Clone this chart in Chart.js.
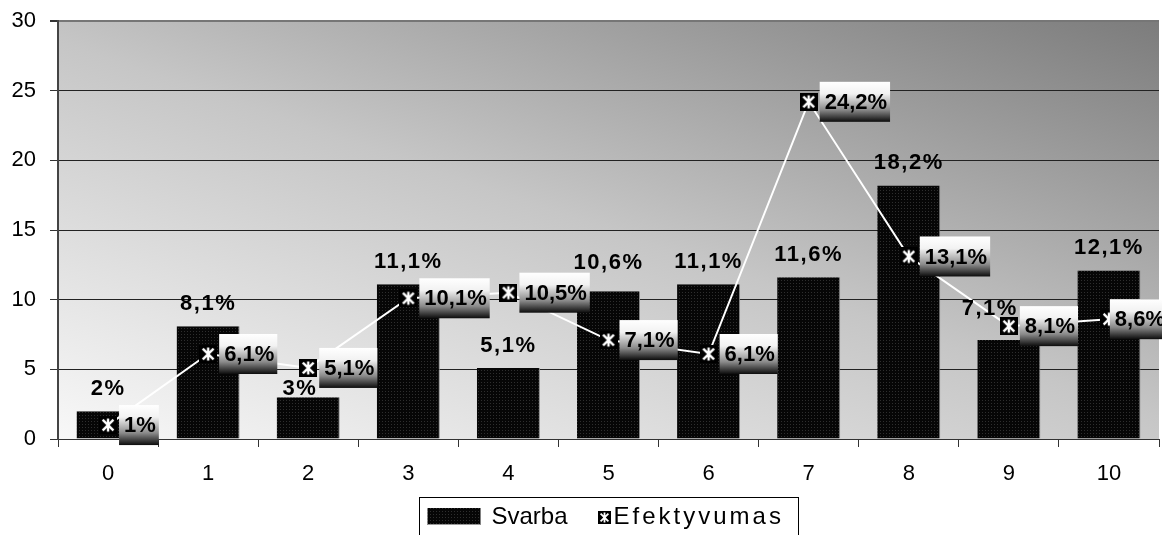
<!DOCTYPE html>
<html>
<head>
<meta charset="utf-8">
<script src="https://cdn.jsdelivr.net/npm/chart.js@4"></script>
<style>
  html, body { margin: 0; padding: 0; background: #fff; overflow: hidden; }
  #wrap { width: 1170px; height: 535px; }
</style>
</head>
<body>
<div id="wrap"><canvas id="c" width="1170" height="535"></canvas></div>
<script>
const categories = ['0', '1', '2', '3', '4', '5', '6', '7', '8', '9', '10'];
const svarba = [2, 8.1, 3, 11.1, 5.1, 10.6, 11.1, 11.6, 18.2, 7.1, 12.1];
const efektyvumas = [1, 6.1, 5.1, 10.1, 10.5, 7.1, 6.1, 24.2, 13.1, 8.1, 8.6];
const yTickValues = [0, 5, 10, 15, 20, 25, 30];
const seriesNames = ['Svarba', 'Efektyvumas'];

const FONT = '"Liberation Sans", Arial, sans-serif';
const VISIBLE_WIDTH = 1162;
const MARKER = 18;
const pct = v => String(v).replace('.', ',') + '%';

// dotted near-black fill used by the bars and the legend swatch
function makeBarPattern(ctx) {
  const t = document.createElement('canvas');
  t.width = 3; t.height = 3;
  const g = t.getContext('2d');
  g.fillStyle = '#060606'; g.fillRect(0, 0, 3, 3);
  g.fillStyle = '#2e2e2e'; g.fillRect(1, 1, 1, 1);
  return ctx.createPattern(t, 'repeat');
}

// black square carrying a white six-armed asterisk
function makeMarker(size, lw) {
  const m = document.createElement('canvas');
  m.width = size; m.height = size;
  const g = m.getContext('2d');
  g.fillStyle = '#000'; g.fillRect(0, 0, size, size);
  g.strokeStyle = '#fff'; g.lineWidth = lw;
  const a = size * 0.2, b = size * 0.8, c = size / 2;
  g.beginPath();
  g.moveTo(a, a); g.lineTo(b, b);
  g.moveTo(b, a); g.lineTo(a, b);
  g.moveTo(c, a - 1); g.lineTo(c, b + 1);
  g.stroke();
  return m;
}

const canvas = document.getElementById('c');
const ctx0 = canvas.getContext('2d');
const barPattern = makeBarPattern(ctx0);
const pointMarker = makeMarker(MARKER, 2.4);
const legendMarker = makeMarker(13, 1.8);

// grey diagonal wash behind the plot, light at the lower left, dark at the upper right
const backdrop = {
  id: 'backdrop',
  beforeDraw(chart) {
    const { ctx, chartArea: a } = chart;
    ctx.save();
    ctx.fillStyle = '#fff';
    ctx.fillRect(0, 0, chart.width, chart.height);
    const len = 752;
    const g = ctx.createLinearGradient(a.left, a.bottom, a.left + 0.323 * len, a.bottom - 0.946 * len);
    g.addColorStop(0, '#f8f8f8');
    g.addColorStop(0.5, '#c6c6c6');
    g.addColorStop(1, '#7c7c7c');
    ctx.fillStyle = g;
    ctx.fillRect(a.left, a.top, a.right - a.left, a.bottom - a.top);
    ctx.restore();
  }
};

const overlaps = (r, t) => r.x + r.w > t.x && r.x < t.x + t.w && r.y + r.h > t.y && r.y < t.y + t.h;

// percentage labels: plain text above the bars, shaded tags beside the line markers
const valueLabels = {
  id: 'valueLabels',
  afterDatasetsDraw(chart) {
    const ctx = chart.ctx;
    const bars = chart.getDatasetMeta(0).data;
    const pts = chart.getDatasetMeta(1).data;
    ctx.save();
    ctx.font = 'bold 22px ' + FONT;

    const tags = pts.map((p, i) => {
      const text = pct(efektyvumas[i]);
      const w = ctx.measureText(text).width + 8;
      let x = p.x + 11;
      // keep the tag inside the visible canvas
      if (x + w > VISIBLE_WIDTH + 6) x = VISIBLE_WIDTH + 6 - w;
      return { x: x, y: p.y - 20, w: w, h: 40, text: text };
    });

    ctx.fillStyle = '#000';
    ctx.textAlign = 'left';
    ctx.textBaseline = 'alphabetic';
    ctx.letterSpacing = '1.5px';
    bars.forEach((b, i) => {
      const text = pct(svarba[i]);
      const tw = ctx.measureText(text).width;
      const r = { x: b.x - tw / 2, y: b.y - 16 - 16, w: tw, h: 16 };
      const own = tags[i];
      const p = pts[i];
      const mk = { x: p.x - MARKER / 2, y: p.y - MARKER / 2, w: MARKER, h: MARKER };
      if (overlaps(r, own)) {
        // slide left of the tag that belongs to the same category
        r.x = own.x - 2 - tw;
        if (overlaps(r, mk)) {
          // then step clear of the marker: below it if the bar leaves room, else above it
          r.y = mk.y + mk.h + 2;
          if (r.y + r.h > b.y - 1) r.y = mk.y - 2 - r.h;
        }
      }
      tags.forEach((t, j) => {
        if (j !== i && overlaps(r, t)) r.y = t.y - 4 - r.h;
      });
      ctx.fillText(text, r.x, r.y + r.h);
    });
    ctx.letterSpacing = '0px';

    tags.forEach(t => {
      const g = ctx.createLinearGradient(0, t.y, 0, t.y + t.h);
      g.addColorStop(0, '#ffffff');
      g.addColorStop(0.3, '#f2f2f2');
      g.addColorStop(0.7, '#8a8a8a');
      g.addColorStop(1, '#0c0c0c');
      ctx.fillStyle = g;
      ctx.fillRect(t.x, t.y, t.w, t.h);
      ctx.fillStyle = '#000';
      ctx.textBaseline = 'middle';
      ctx.fillText(t.text, t.x + 5, t.y + t.h / 2 + 1);
    });
    ctx.restore();
  }
};

// framed legend centred under the plot
const legendBox = {
  id: 'legendBox',
  afterDraw(chart) {
    const ctx = chart.ctx, a = chart.chartArea;
    ctx.save();
    ctx.font = '24px ' + FONT;
    const swW = 53, swH = 17, gap1 = 11, gap2 = 30, mk = 13, gap3 = 3, padL = 8, padR = 15;
    const w1 = ctx.measureText(seriesNames[0]).width;
    ctx.letterSpacing = '3px';
    const w2 = ctx.measureText(seriesNames[1]).width;
    ctx.letterSpacing = '0px';
    const total = padL + swW + gap1 + w1 + gap2 + mk + gap3 + w2 + padR;
    const left = Math.round((a.left + a.right) / 2 - total / 2) + 0.5;
    const top = Math.round(a.bottom + 58) + 0.5;
    const mid = top + 19;

    ctx.strokeStyle = '#000';
    ctx.lineWidth = 1;
    ctx.strokeRect(left, top, Math.round(total), 60);

    let x = left + padL;
    ctx.fillStyle = barPattern;
    ctx.fillRect(x, mid - swH / 2, swW, swH);
    ctx.fillStyle = '#9a9a9a';
    ctx.fillRect(x, mid + swH / 2 - 1, swW, 1);
    x += swW + gap1;

    ctx.fillStyle = '#000';
    ctx.textBaseline = 'middle';
    ctx.textAlign = 'left';
    ctx.fillText(seriesNames[0], x, mid + 1);
    x += w1 + gap2;

    ctx.drawImage(legendMarker, Math.round(x), Math.round(mid - mk / 2 + 1));
    x += mk + gap3;

    ctx.letterSpacing = '3px';
    ctx.fillText(seriesNames[1], x, mid + 1);
    ctx.restore();
  }
};

new Chart(canvas, {
  type: 'bar',
  data: {
    labels: categories,
    datasets: [
      {
        type: 'bar',
        label: seriesNames[0],
        data: svarba,
        backgroundColor: barPattern,
        borderColor: '#8c8c8c',
        borderWidth: { top: 0, left: 0, right: 1, bottom: 0 },
        borderSkipped: false,
        barPercentage: 0.63,
        categoryPercentage: 1,
        order: 2
      },
      {
        type: 'line',
        label: seriesNames[1],
        data: efektyvumas,
        borderColor: '#ffffff',
        borderWidth: 2,
        pointStyle: pointMarker,
        pointRadius: 9,
        pointHoverRadius: 9,
        tension: 0,
        order: 1
      }
    ]
  },
  options: {
    responsive: false,
    animation: false,
    devicePixelRatio: 1,
    layout: { padding: { top: 21, right: 1, left: 0, bottom: 0 } },
    plugins: { legend: { display: false }, tooltip: { enabled: false } },
    scales: {
      x: {
        grid: { offset: true, drawOnChartArea: false, tickLength: 8, tickColor: '#333' },
        border: { color: '#333', width: 1 },
        ticks: { font: { family: FONT, size: 22 }, color: '#000', padding: 14 },
        afterFit(s) { s.height = 96; }
      },
      y: {
        min: 0,
        max: 30,
        afterBuildTicks(s) { s.ticks = yTickValues.map(v => ({ value: v })); },
        ticks: { font: { family: FONT, size: 22 }, color: '#000', padding: 14 },
        grid: {
          color: c => (c.tick && c.tick.value === 30 ? '#767676' : '#222'),
          lineWidth: c => (c.tick && c.tick.value === 30 ? 2 : 1),
          tickLength: 8,
          tickColor: '#333'
        },
        border: { color: '#444', width: 2 },
        afterFit(s) { s.width = 58; s.paddingTop = 0; s.paddingBottom = 0; }
      }
    }
  },
  plugins: [backdrop, valueLabels, legendBox]
});
</script>
</body>
</html>
